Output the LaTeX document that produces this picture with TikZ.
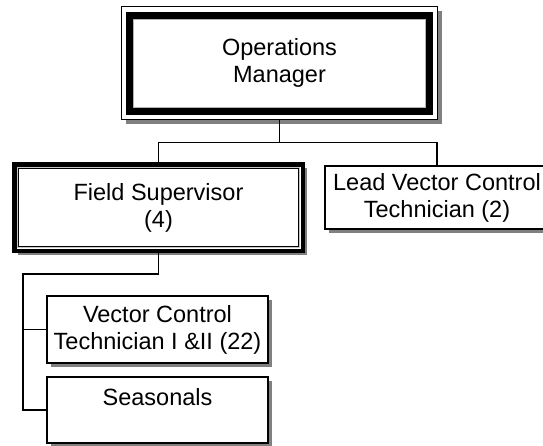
\documentclass[tikz,border=0pt]{standalone}
\usepackage{fontspec}
\setmainfont{Liberation Sans}
\usetikzlibrary{shadows}
\begin{document}
\begin{tikzpicture}[x=1pt,y=-1pt,line join=miter,
  box/.style={draw=black,fill=white,line width=1.3pt,inner sep=0pt,outer sep=0pt,align=center,
    font=\fontsize{23.5}{27}\selectfont,
    general shadow={fill=gray,shadow xshift=4pt,shadow yshift=-4pt}},
  link/.style={line width=1.2pt}]
  \useasboundingbox (0,0) rectangle (543,445);
  \node[box,line width=1.5pt,minimum width=316pt,minimum height=113pt] (om) at (279.5,63) {Operations\\Manager};
  \node[box,line width=4.5pt,minimum width=288.5pt,minimum height=86.5pt] (fs) at (158.5,207.5) {Field Supervisor\\(4)};
  \node[box,minimum width=224pt,minimum height=63pt] (ld) at (437,197.5) {Lead Vector Control\\Technician (2)};
  \node[box,minimum width=221pt,minimum height=67pt] (vc) at (157.5,329.5) {Vector Control\\Technician I \&II (22)};
  \node[box,minimum width=221pt,minimum height=66pt] (se) at (157.5,410) {Seasonals\\\mbox{}};
  \draw[line width=7pt] ([xshift=8pt,yshift=-8.5pt]om.north west) rectangle ([xshift=-8pt,yshift=8.5pt]om.south east);
  \draw[gray!60,line width=0.8pt] ([xshift=12pt,yshift=-12.5pt]om.north west) rectangle ([xshift=-12pt,yshift=12.5pt]om.south east);
  \draw[gray!45,line width=1.2pt] ([xshift=3pt,yshift=-3pt]fs.north west) rectangle ([xshift=-3pt,yshift=3pt]fs.south east);
  \draw[line width=1.3pt] ([xshift=4.3pt,yshift=-4.3pt]fs.north west) rectangle ([xshift=-4.3pt,yshift=4.3pt]fs.south east);
  \coordinate (bus) at ([yshift=-23pt]om.south);
  \coordinate (spine) at (23,274);
  \draw[link] (om.south) -- (bus) -| (fs.north);
  \draw[link] (bus) -| (ld.north);
  \draw[link] (fs.south) |- (spine) |- (vc.west);
  \draw[link] (spine) |- (se.west);
\end{tikzpicture}
\end{document}
